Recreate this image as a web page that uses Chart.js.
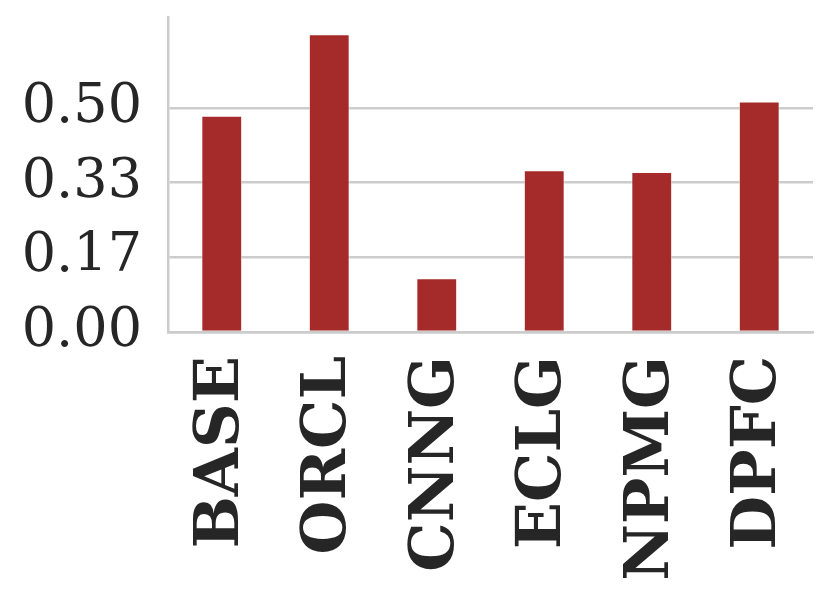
<!DOCTYPE html>
<html>
<head>
<meta charset="utf-8">
<script src="https://cdn.jsdelivr.net/npm/chart.js@4"></script>
<style>
  html, body { margin: 0; padding: 0; background: #fff; }
  #wrap { width: 830px; height: 598px; }
</style>
</head>
<body>
<div id="wrap"><canvas id="chart" width="830" height="598"></canvas></div>
<script>
const categories = ["BASE", "ORCL", "CNNG", "ECLG", "NPMG", "DPFC"];
const values = [0.482, 0.664, 0.120, 0.361, 0.357, 0.514];
const yTicks = [0, 1 / 6, 2 / 6, 3 / 6];
const yTickLabels = ["0.00", "0.17", "0.33", "0.50"];

const textColor = "#262626";
const gridColor = "#cccccc";

const ctx = document.getElementById("chart").getContext("2d");

const chart = new Chart(ctx, {
  type: "bar",
  data: {
    labels: categories,
    datasets: [{
      data: values,
      backgroundColor: "#a52a2a",
      borderColor: "rgba(255,255,255,0.6)",
      borderWidth: 1,
      categoryPercentage: 1,
      barPercentage: 0.38,
    }],
  },
  options: {
    responsive: false,
    animation: false,
    layout: { padding: { top: 17, right: 17, left: 0, bottom: 0 } },
    plugins: {
      legend: { display: false },
      tooltip: { enabled: false },
    },
    scales: {
      x: {
        grid: { display: false },
        border: { display: true, color: gridColor, width: 2.5 },
        ticks: {
          color: textColor,
          font: { family: "'DejaVu Serif', serif", size: 62, weight: "bold", lineHeight: 0.1 },
          minRotation: 90,
          maxRotation: 90,
          padding: 16,
        },
        afterFit: (axis) => { axis.height = 266; },
      },
      y: {
        min: 0,
        max: 0.7025,
        afterBuildTicks: (axis) => { axis.ticks = yTicks.map(v => ({ value: v })); },
        grid: { color: gridColor, lineWidth: 2.5, drawTicks: false },
        border: { display: true, color: gridColor, width: 2.5 },
        ticks: {
          color: textColor,
          font: { family: "'DejaVu Serif', serif", size: 54, lineHeight: 0.1 },
          padding: 26,
          callback: (v, i) => yTickLabels[i],
        },
        afterFit: (axis) => {
          axis.width = 168;
          axis.paddingTop = 0;
          axis.paddingBottom = 0;
        },
      },
    },
  },
});
</script>
</body>
</html>
